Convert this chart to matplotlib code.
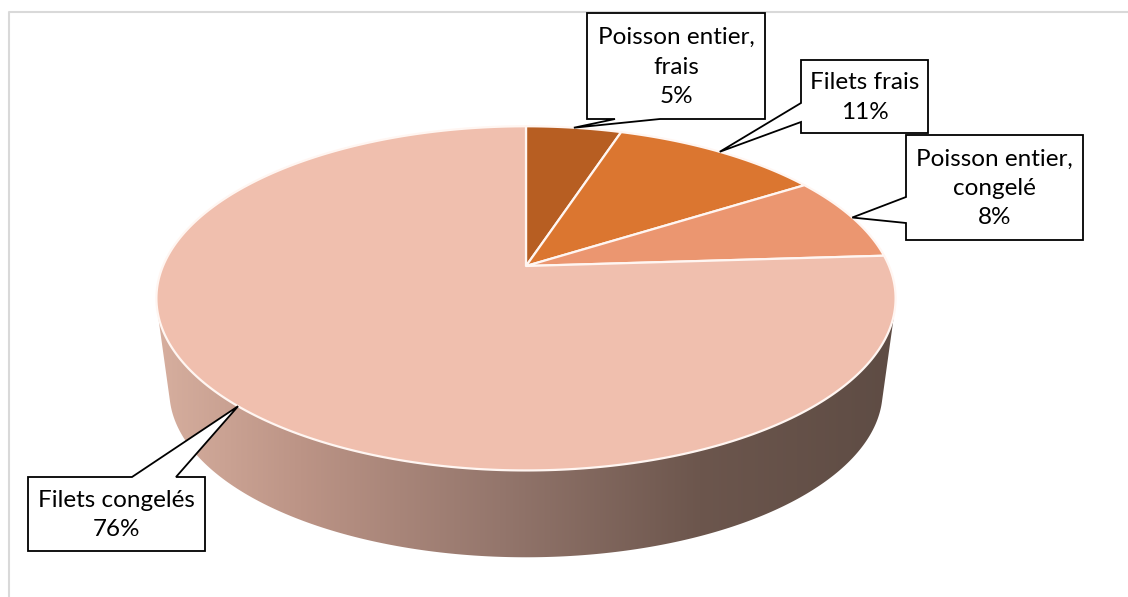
import numpy as np
import matplotlib
matplotlib.use("Agg")
import matplotlib.pyplot as plt
from matplotlib.patches import Polygon

# --- data ---
categories = ["Poisson entier,\nfrais", "Filets frais", "Poisson entier,\ncongelé", "Filets congelés"]
shares = [5, 11, 8, 76]
slice_colors = ["#B75E22", "#DB7630", "#EB9670", "#F0BFAE"]

# label boxes (x0, y0, x1, y1) in pixels, and the side the pointer leaves from
label_boxes = [(587, 13, 765, 119), (801, 60, 928, 133), (906, 135, 1083, 240), (28, 477, 205, 551)]
pointer_sides = ["bottom", "left", "left", "top"]
pointer_bases = [(615, 660), (103, 122), (197, 223), (132, 176)]

W, H = 1128, 597

# projection of the tilted disc (perspective), pixel units
CX, CY = 526.0, 266.0
A, B, K = 363.0, 166.0, 0.188
DEPTH, SHRINK = 94.0, 0.035


def project(frac, r=1.0, z=0.0):
    th = 2 * np.pi * np.asarray(frac)
    X = r * np.sin(th)
    Y = r * np.cos(th)
    sc = 1 - SHRINK * z
    d = 1 + K * Y
    return CX + A * sc * X / d, CY + DEPTH * z - B * sc * Y / d


def convex_hull(pts):
    pts = sorted(set(map(tuple, np.round(pts, 3))))

    def cross(o, a, b):
        return (a[0] - o[0]) * (b[1] - o[1]) - (a[1] - o[1]) * (b[0] - o[0])

    lower, upper = [], []
    for p in pts:
        while len(lower) >= 2 and cross(lower[-2], lower[-1], p) <= 0:
            lower.pop()
        lower.append(p)
    for p in reversed(pts):
        while len(upper) >= 2 and cross(upper[-2], upper[-1], p) <= 0:
            upper.pop()
        upper.append(p)
    return np.array(lower[:-1] + upper[:-1])


def callout(box, side, base, tip):
    x0, y0, x1, y1 = box
    b0, b1 = base
    if side == "bottom":
        v = [(x0, y0), (x1, y0), (x1, y1), (b1, y1), tip, (b0, y1), (x0, y1)]
    elif side == "left":
        v = [(x0, y0), (x1, y0), (x1, y1), (x0, y1), (x0, b1), tip, (x0, b0)]
    else:  # top
        v = [(x0, y0), (b0, y0), tip, (b1, y0), (x1, y0), (x1, y1), (x0, y1)]
    return Polygon(v, closed=True, facecolor="white", edgecolor="black", lw=1.3, zorder=5)


plt.rcParams["font.family"] = ["Lato", "DejaVu Sans"]
fig = plt.figure(figsize=(W / 100, H / 100), dpi=100)
ax = fig.add_axes([0, 0, 1, 1])
ax.set_xlim(0, W)
ax.set_ylim(H, 0)
ax.axis("off")

# chart frame (only top/left edges fall inside the image)
ax.plot([9, 9, W], [H, 12, 12], color="#D9D9D9", lw=1.5, zorder=0)

# side of the cylinder: hull of top and bottom discs, filled with a gradient
t = np.linspace(0, 1, 721)
tx, ty = project(t, z=0)
bx, by = project(t, z=1)
hull = convex_hull(np.column_stack([np.r_[tx, bx], np.r_[ty, by]]))
side = Polygon(hull, closed=True, facecolor="none", edgecolor="none")
ax.add_patch(side)
stops_x = [160, 300, 500, 700, 895]
stops_c = np.array([(214, 174, 158), (188, 148, 134), (148, 118, 108), (108, 86, 77), (94, 76, 68)]) / 255
gx = np.linspace(150, 900, 400)
grad = np.stack([np.interp(gx, stops_x, stops_c[:, i]) for i in range(3)], axis=-1)[None, :, :]
im = ax.imshow(grad, extent=(150, 900, 570, 250), aspect="auto", interpolation="bilinear", zorder=1)
im.set_clip_path(side)
ax.set_xlim(0, W)
ax.set_ylim(H, 0)

# top face slices
fracs = np.array(shares, dtype=float) / sum(shares)
starts = np.r_[0, np.cumsum(fracs)[:-1]]
for s, f, col in zip(starts, fracs, slice_colors):
    tt = np.linspace(s, s + f, max(int(f * 720), 4))
    px, py = project(tt)
    verts = np.column_stack([np.r_[CX, px], np.r_[CY, py]])
    ax.add_patch(Polygon(verts, closed=True, facecolor=col, edgecolor="#FFF6F2", lw=1.6, zorder=2,
                         joinstyle="round"))

# labels with pointers to the middle of each slice's rim
for lab, sh, s, f, box, sd, bs in zip(categories, shares, starts, fracs, label_boxes, pointer_sides, pointer_bases):
    tip = tuple(v.item() for v in project(s + f / 2))
    ax.add_patch(callout(box, sd, bs, tip))
    ax.text((box[0] + box[2]) / 2, (box[1] + box[3]) / 2 + 1, f"{lab}\n{sh}%", ha="center", va="center",
            fontsize=17.5, linespacing=1.5, color="black", zorder=6)

fig.savefig("out.png", dpi=100)
